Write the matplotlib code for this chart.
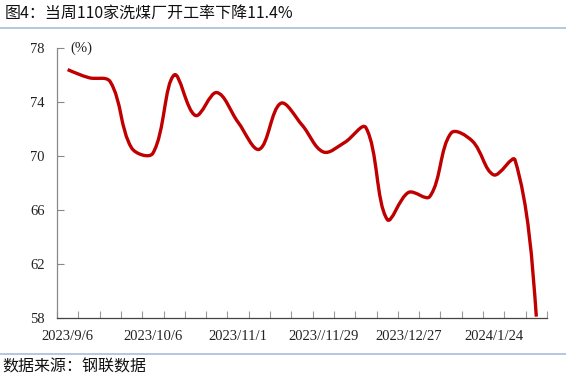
import matplotlib.pyplot as plt
import numpy as np
from matplotlib.path import Path
from matplotlib.patches import PathPatch
from matplotlib.lines import Line2D

plt.rcParams['font.family'] = ['Noto Sans CJK SC', 'DejaVu Sans']

#weekly operating rate of 110 coal washing plants (%)
weeks = list(range(23))
rate = [76.4, 75.8, 75.5, 70.6, 70.2, 76.0, 73.0, 74.7, 72.5, 70.5,
        73.9, 72.3, 70.3, 71.0, 72.1, 65.3, 67.3, 67.0, 71.7, 71.1,
        68.6, 69.7, 58.1]
label_pos = [0, 4, 8, 12, 16, 20]
label_txt = ['2023/9/6', '2023/10/6', '2023/11/1', '2023//11/29',
             '2023/12/27', '2024/1/24']
yticks = [58, 62, 66, 70, 74, 78]

def smooth_path(ax, x, y, t=0.36):
    #smoothed line like excel: bezier segments, control points weighted by
    #the on-screen length of the neighbouring segments
    x = np.asarray(x, float)
    y = np.asarray(y, float)
    pts = ax.transData.transform(np.column_stack([x, y]))
    n = len(pts)
    cin = pts.copy()
    cout = pts.copy()
    for i in range(1, n - 1):
        d01 = np.hypot(*(pts[i] - pts[i-1]))
        d12 = np.hypot(*(pts[i+1] - pts[i]))
        fa = t * d01 / (d01 + d12)
        fb = t * d12 / (d01 + d12)
        cin[i] = pts[i] - fa * (pts[i+1] - pts[i-1])
        cout[i] = pts[i] + fb * (pts[i+1] - pts[i-1])
    cout[0] = pts[0] + (cin[1] - pts[0]) * 0.5
    cin[-1] = pts[-1] + (cout[-2] - pts[-1]) * 0.5
    verts = [pts[0]]
    codes = [Path.MOVETO]
    for i in range(n - 1):
        verts += [cout[i], cin[i+1], pts[i+1]]
        codes += [Path.CURVE4] * 3
    verts = ax.transData.inverted().transform(np.array(verts))
    return Path(verts, codes)

fig = plt.figure(figsize=(5.66, 3.80), dpi=100)
ax = fig.add_axes([0.1007, 0.1632, 0.8657, 0.7105])

ax.set_xlim(-0.5, 22.5)
ax.set_ylim(58, 78)

ax.add_patch(PathPatch(smooth_path(ax, weeks, rate), facecolor='none',
                       edgecolor='#C00000', lw=2.4, capstyle='butt',
                       joinstyle='round'))

ax.set_yticks(yticks)
ax.set_yticklabels([str(v) for v in yticks], family='Liberation Serif',
                   fontsize=10.5, color='#222222')
ax.tick_params(axis='y', direction='in', length=5, width=0.8,
               color='#888888', pad=9)

ax.set_xticks(label_pos)
ax.set_xticklabels(label_txt, family='Liberation Serif', fontsize=10.5,
                   color='#222222')
ax.set_xticks(np.arange(-0.5, 23, 1), minor=True)
ax.tick_params(axis='x', which='major', length=0, pad=9)
ax.tick_params(axis='x', which='minor', direction='in', length=5,
               width=0.8, color='#999999')

for s in ['top', 'right']:
    ax.spines[s].set_visible(False)
ax.spines['left'].set_color('#888888')
ax.spines['left'].set_linewidth(0.9)
ax.spines['bottom'].set_color('#444444')
ax.spines['bottom'].set_linewidth(0.9)

ax.text(0.027, 1.0, '(%)', transform=ax.transAxes, family='Liberation Serif',
        fontsize=10.5, color='#222222', va='center', ha='left')

#title, source and separator lines
fig.text(0.009, 0.965, '图4：当周110家洗煤厂开工率下降11.4%', fontsize=11.5,
         color='#111111', va='center', ha='left')
fig.text(0.005, 0.034, '数据来源：钢联数据', fontsize=11.5,
         color='#111111', va='center', ha='left')
fig.add_artist(Line2D([0, 1], [1 - 28/380, 1 - 28/380], color='#A9BCD8',
                      lw=1.2, transform=fig.transFigure))
fig.add_artist(Line2D([0, 1], [1 - 354/380, 1 - 354/380], color='#A9BCD8',
                      lw=1.2, transform=fig.transFigure))

fig.savefig('out.png', dpi=100)
